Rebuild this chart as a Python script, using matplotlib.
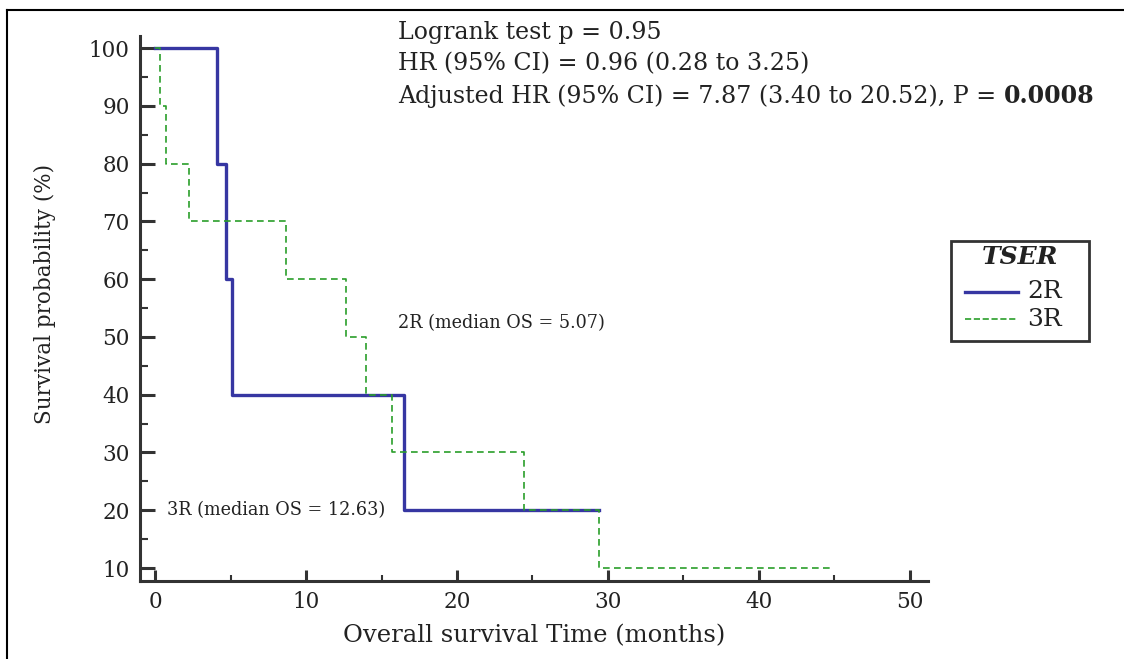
import matplotlib
matplotlib.use("Agg")
import matplotlib.pyplot as plt
from matplotlib.lines import Line2D
from matplotlib.patches import Rectangle
from matplotlib.ticker import MultipleLocator

# ---- data ----
t_2r = [0, 4.1, 4.7, 5.07, 16.5, 29.4]
s_2r = [100, 80, 60, 40, 20, 20]
t_3r = [0, 0.35, 0.7, 2.25, 8.7, 12.63, 14.0, 15.7, 24.45, 29.4, 45.0]
s_3r = [100, 90, 80, 70, 60, 50, 40, 30, 20, 10, 10]
x_ticks = [0, 10, 20, 30, 40, 50]
y_ticks = [10, 20, 30, 40, 50, 60, 70, 80, 90, 100]
series_names = ["2R", "3R"]
legend_title = "TSER"
stats_lines = ["Logrank test p = 0.95",
               "HR (95% CI) = 0.96 (0.28 to 3.25)"]
stats_line3 = "Adjusted HR (95% CI) = 7.87 (3.40 to 20.52), P = "
stats_bold = "0.0008"
label_2r = "2R (median OS = 5.07)"
label_3r = "3R (median OS = 12.63)"

FONT = "DejaVu Serif"
TXT = "#222222"
AX = "#333333"
BLUE = "#3636a2"
GREEN = "#2a9e2a"
W, H = 1124, 659

plt.rcParams["font.family"] = FONT

fig = plt.figure(figsize=(W/100, H/100), dpi=100)
ax = fig.add_axes([140/W, 1-581/H, (928-140)/W, (581-36)/H])

l2, = ax.step(t_2r, s_2r, where="post", color=BLUE, lw=2.4, label=series_names[0], zorder=3)
l3, = ax.step(t_3r, s_3r, where="post", color=GREEN, lw=1.2, ls=(0, (4, 2.6)),
              label=series_names[1], zorder=4)

ax.set_xlim(-1.0, 51.2)
ax.set_ylim(7.75, 102.1)
ax.set_xticks(x_ticks)
ax.set_yticks(y_ticks)
ax.xaxis.set_minor_locator(MultipleLocator(5))
ax.yaxis.set_minor_locator(MultipleLocator(5))

for s in ["top", "right"]:
    ax.spines[s].set_visible(False)
for s in ["left", "bottom"]:
    ax.spines[s].set_linewidth(2.2)
    ax.spines[s].set_color(AX)

ax.tick_params(axis="y", which="major", direction="in", length=10.8, width=2.2, color=AX,
               labelsize=15.5, labelcolor=TXT, pad=7.5)
ax.tick_params(axis="y", which="minor", direction="in", length=5.5, width=1.5, color=AX)
ax.tick_params(axis="x", which="major", direction="in", length=7.9, width=2.2, color=AX,
               labelsize=15.5, labelcolor=TXT, pad=7.5)
ax.tick_params(axis="x", which="minor", direction="in", length=4, width=1.5, color=AX)

ax.set_xlabel("Overall survival Time (months)", fontsize=17.5, color=TXT, labelpad=7.5)
fig.text(45/W, 1-294/H, "Survival probability (%)", rotation=90, fontsize=15.5,
         color=TXT, ha="center", va="center")

ax.text(16.1, 52.4, label_2r, fontsize=12.7, color=TXT, ha="left", va="center")
ax.text(0.8, 20, label_3r, fontsize=12.7, color=TXT, ha="left", va="center")

# stats text
SF = 17.15
fig.text(398/W, 1-32/H, stats_lines[0], fontsize=SF, color=TXT, ha="left", va="center")
fig.text(398/W, 1-64/H, stats_lines[1], fontsize=SF, color=TXT, ha="left", va="center")
t3 = fig.text(398/W, 1-96/H, stats_line3, fontsize=SF, color=TXT, ha="left", va="center")
fig.canvas.draw()
bb = t3.get_window_extent()
fig.text(bb.x1/W, 1-96/H, stats_bold, fontsize=SF, color=TXT, ha="left", va="center",
         fontweight="bold")

# legend (drawn as a boxed key in figure pixel coordinates)
def fx(px):
    return px / W

def fy(py):
    return 1 - py / H

fig.add_artist(Rectangle((fx(951), fy(341)), fx(1089) - fx(951), fy(241) - fy(341),
                         transform=fig.transFigure, facecolor="white", edgecolor=AX, lw=2.0))
fig.text(fx(1020), fy(257), legend_title, fontsize=18, fontweight="bold", fontstyle="italic",
         color=TXT, ha="center", va="center")
for line, ypx in zip([l2, l3], [292, 319]):
    fig.add_artist(Line2D([fx(965), fx(1018)], [fy(ypx), fy(ypx)], transform=fig.transFigure,
                          color=line.get_color(), lw=line.get_linewidth(),
                          ls=line.get_linestyle()))
    fig.text(fx(1027), fy(ypx), line.get_label(), fontsize=18, color=TXT,
             ha="left", va="center")

# outer frame (left and top edges)
fig.add_artist(Line2D([fx(7), fx(7)], [0, fy(10)], transform=fig.transFigure, color="black", lw=1.5))
fig.add_artist(Line2D([fx(7), 1], [fy(10), fy(10)], transform=fig.transFigure, color="black", lw=1.5))

fig.savefig("out.png", dpi=100)
